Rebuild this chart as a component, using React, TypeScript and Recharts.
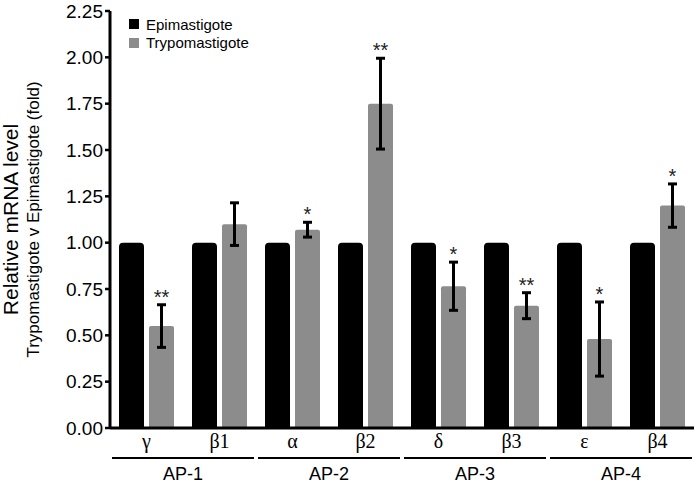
import { Bar, BarChart, ErrorBar, LabelList, Legend, XAxis, YAxis } from "recharts";

const subunits = ["γ", "β1", "α", "β2", "δ", "β3", "ε", "β4"];
const families = ["AP-1", "AP-1", "AP-2", "AP-2", "AP-3", "AP-3", "AP-4", "AP-4"];
const epimastigote = [1, 1, 1, 1, 1, 1, 1, 1];
const trypomastigote = [0.55, 1.1, 1.07, 1.75, 0.765, 0.66, 0.48, 1.2];
const trypoError = [0.115, 0.115, 0.04, 0.245, 0.13, 0.07, 0.2, 0.117];
const significance = ["**", "", "*", "**", "*", "**", "*", "*"];
const yTicks = [0, 0.25, 0.5, 0.75, 1, 1.25, 1.5, 1.75, 2, 2.25];

const data = subunits.map((name, i) => ({
  name,
  family: families[i],
  epi: epimastigote[i],
  trypo: trypomastigote[i],
  err: trypoError[i],
  sig: significance[i],
}));

const SANS = '"Liberation Sans", Arial, sans-serif';
const SERIF = '"Liberation Serif", "Times New Roman", serif';
const GREY = "#8c8c8c";

function SubTick({ x, y, payload }: any) {
  return (
    <text x={x} y={y + 20} textAnchor="middle" fontFamily={SERIF} fontSize={20} fill="#000">
      {payload.value}
    </text>
  );
}

function FamilyTick({ x, y, payload }: any) {
  return (
    <g>
      <line x1={x - 71} x2={x + 71} y1={y} y2={y} stroke="#000" strokeWidth={2} />
      <text x={x} y={y + 22} textAnchor="middle" fontFamily={SANS} fontSize={18} fill="#000">
        {payload.value}
      </text>
    </g>
  );
}

// asterisks sit just above the top of the error bar
function Stars(props: any) {
  const { x, y, width, height, value, index } = props;
  if (!value) return null;
  const pxPerUnit = height / trypomastigote[index];
  const top = y - trypoError[index] * pxPerUnit;
  return (
    <text x={x + width / 2} y={top - 1} textAnchor="middle" fontFamily={SANS} fontSize={20} fill="#222">
      {value}
    </text>
  );
}

function YTitle({ viewBox }: any) {
  const cy = viewBox.y + viewBox.height / 2;
  return (
    <g fontFamily={SANS} fill="#000">
      <text x={18} y={cy} transform={`rotate(-90 18 ${cy})`} textAnchor="middle" fontSize={21}>
        Relative mRNA level
      </text>
      <text x={39} y={cy} transform={`rotate(-90 39 ${cy})`} textAnchor="middle" fontSize={17}>
        Trypomastigote v Epimastigote (fold)
      </text>
    </g>
  );
}

function LegendBox({ payload }: any) {
  return (
    <div style={{ fontFamily: SANS, fontSize: 15, color: "#000" }}>
      {(payload || []).map((p: any) => (
        <div key={p.value} style={{ display: "flex", alignItems: "center", height: 18.5 }}>
          <span style={{ display: "inline-block", width: 10, height: 10, background: p.color, marginRight: 7 }} />
          {p.value}
        </div>
      ))}
    </div>
  );
}

export default function App() {
  return (
    <div style={{ position: "absolute", left: 0, top: 0, background: "#fff" }}>
      <BarChart
        width={697}
        height={483}
        data={data}
        margin={{ top: 11, right: 3, bottom: 0, left: 0 }}
        barGap={5}
        barSize={25}
      >
        <XAxis
          xAxisId="axisA"
          dataKey="name"
          height={30}
          axisLine={{ stroke: "#000", strokeWidth: 3 }}
          tickLine={false}
          tickSize={0}
          tickMargin={0}
          tick={<SubTick />}
          interval={0}
        />
        <XAxis
          xAxisId="axisB"
          dataKey="family"
          allowDuplicatedCategory={false}
          height={25}
          axisLine={false}
          tickLine={false}
          tickSize={0}
          tickMargin={0}
          tick={<FamilyTick />}
          interval={0}
        />
        <YAxis
          width={110}
          domain={[0, 2.25]}
          ticks={yTicks}
          interval={0}
          tickFormatter={(v: number) => v.toFixed(2)}
          axisLine={{ stroke: "#000", strokeWidth: 3 }}
          tickLine={{ stroke: "#000", strokeWidth: 2.5 }}
          tickSize={5}
          tickMargin={2}
          tick={{ fill: "#000", fontSize: 19, fontFamily: SANS }}
          label={{ content: <YTitle /> }}
        />
        <Legend
          layout="vertical"
          align="center"
          verticalAlign="middle"
          wrapperStyle={{ left: 129, top: 15, width: 160 }}
          content={<LegendBox />}
        />
        <Bar
          xAxisId="axisA"
          dataKey="epi"
          name="Epimastigote"
          fill="#000"
          radius={[4, 4, 0, 0]}
          isAnimationActive={false}
        />
        <Bar
          xAxisId="axisA"
          dataKey="trypo"
          name="Trypomastigote"
          fill={GREY}
          radius={[2, 2, 0, 0]}
          isAnimationActive={false}
        >
          <ErrorBar dataKey="err" width={4.5} strokeWidth={3} stroke="#000" isAnimationActive={false} />
          <LabelList dataKey="sig" content={<Stars />} />
        </Bar>
      </BarChart>
    </div>
  );
}
